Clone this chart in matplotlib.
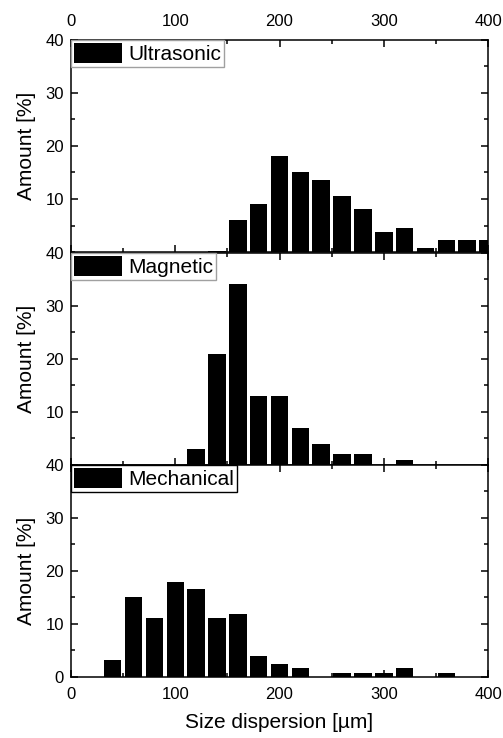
import numpy as np
import matplotlib
matplotlib.use('Agg')
import matplotlib.pyplot as plt
from matplotlib.ticker import MultipleLocator

plt.rcParams['font.family'] = ['Liberation Sans', 'DejaVu Sans']

# bin centres [um] and amounts [%]
ultra_x = [140, 160, 180, 200, 220, 240, 260, 280, 300, 320, 340, 360, 380, 400]
ultra_y = [0.2, 6.0, 9.0, 18.1, 15.0, 13.5, 10.5, 8.2, 3.8, 4.5, 0.7, 2.2, 2.2, 2.2]

magn_x = [120, 140, 160, 180, 200, 220, 240, 260, 280, 320]
magn_y = [3.0, 21.0, 34.1, 13.0, 13.0, 7.0, 4.0, 2.0, 2.0, 1.0]

mech_x = [40, 60, 80, 100, 120, 140, 160, 180, 200, 220, 260, 280, 300, 320, 360]
mech_y = [3.2, 15.0, 11.1, 18.0, 16.5, 11.1, 11.9, 4.0, 2.4, 1.6, 0.8, 0.8, 0.8, 1.6, 0.8]

panels = [
    [ultra_x, ultra_y, 'Ultrasonic', '#a0a0a0'],
    [magn_x, magn_y, 'Magnetic', '#a0a0a0'],
    [mech_x, mech_y, 'Mechanical', 'black'],
]

fig = plt.figure(figsize=(5.03, 7.38), dpi=100)

left, width = 0.1412, 0.829
bottoms = [0.6585, 0.370, 0.0827]
height = 0.2874

for i, p in enumerate(panels):
    ax = fig.add_axes([left, bottoms[i], width, height])
    ax.bar(p[0], p[1], width=16.8, color='black', label=p[2])
    ax.set_xlim(0, 400)
    ax.set_ylim(0, 40)
    ax.xaxis.set_major_locator(MultipleLocator(100))
    ax.xaxis.set_minor_locator(MultipleLocator(50))
    ax.yaxis.set_major_locator(MultipleLocator(10))
    ax.yaxis.set_minor_locator(MultipleLocator(5))
    ax.tick_params(which='both', direction='in', top=True, right=True,
                   labelsize=12, width=1.1)
    ax.tick_params(which='major', length=5)
    ax.tick_params(which='minor', length=3)
    ax.tick_params(axis='y', pad=5)
    for s in ax.spines.values():
        s.set_linewidth(1.1)
    ax.set_ylabel('Amount [%]', fontsize=15, labelpad=7)

    if i == 0:
        ax.tick_params(axis='x', labeltop=True, labelbottom=False, pad=8)
    elif i == 1:
        ax.tick_params(axis='x', labelbottom=False)
    else:
        ax.tick_params(axis='x', pad=7)
        ax.set_xlabel('Size dispersion [\u00b5m]', fontsize=15, labelpad=8)

    if i < 2:
        ax.set_yticks([10, 20, 30, 40])

    leg = ax.legend(loc='upper left', fontsize=15, frameon=True, fancybox=False,
                    borderaxespad=0, borderpad=0.15, handlelength=2.3,
                    handleheight=1.1, handletextpad=0.3, framealpha=1)
    leg.get_frame().set_edgecolor(p[3])
    leg.get_frame().set_linewidth(1.0)

plt.savefig('out.png', dpi=100)
